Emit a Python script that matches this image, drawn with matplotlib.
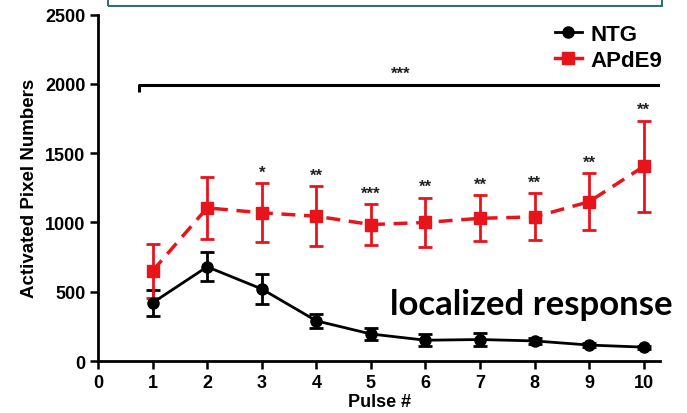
import matplotlib
matplotlib.use("Agg")
import matplotlib.pyplot as plt
from matplotlib.lines import Line2D
from matplotlib.patches import Rectangle

# pulse numbers and mean activated pixel counts
pulses = [1, 2, 3, 4, 5, 6, 7, 8, 9, 10]
ntg_mean = [420, 680, 520, 290, 195, 150, 155, 145, 115, 100]
ntg_err = [95, 105, 105, 50, 45, 45, 45, 20, 15, 10]
apde9_mean = [650, 1105, 1070, 1045, 985, 1000, 1030, 1040, 1150, 1405]
apde9_err = [195, 222, 212, 217, 145, 180, 165, 170, 205, 330]
stars = ["", "", "*", "**", "***", "**", "**", "**", "**", "**"]

x_ticks = [0, 1, 2, 3, 4, 5, 6, 7, 8, 9, 10]
y_ticks = [0, 500, 1000, 1500, 2000, 2500]

RED = "#e8141c"
plt.rcParams["font.family"] = ["Liberation Sans", "DejaVu Sans"]

fig = plt.figure(figsize=(6.87, 4.14), dpi=100)
ax = fig.add_axes([0.1426, 0.1256, 0.8184, 0.8366])

# black NTG curve, solid
ax.errorbar(pulses, ntg_mean, yerr=ntg_err, color="black", lw=2, marker="o",
            markersize=8, capsize=5, capthick=2, elinewidth=2, zorder=3)
# red APdE9 curve, dashed
ax.errorbar(pulses, apde9_mean, yerr=apde9_err, color=RED, lw=2.5, ls=(0, (4, 2.5)),
            marker="s", markersize=8.5, capsize=5, capthick=2, elinewidth=2, zorder=3)

# per-pulse significance stars
for x, m, e, s in zip(pulses, apde9_mean, apde9_err, stars):
    if s:
        ax.text(x, m + e + 25, s, ha="center", va="bottom", fontsize=12,
                fontweight="bold", color="#222222")

# overall bracket
bx0, bx1, by = 0.76, 10.34, 1990
ax.plot([bx0, bx0, bx1, bx1], [by - 50, by, by, by - 50], color="black", lw=2.2,
        solid_capstyle="butt")
ax.text((bx0 + bx1) / 2, by + 30, "***", ha="center", va="bottom", fontsize=12,
        fontweight="bold", color="#222222")

ax.set_xlim(0, 10.3)
ax.set_ylim(0, 2500)
ax.set_xticks(x_ticks)
ax.set_yticks(y_ticks)
for sp in ["top", "right"]:
    ax.spines[sp].set_visible(False)
for sp in ["left", "bottom"]:
    ax.spines[sp].set_linewidth(2)
ax.tick_params(width=1.8, length=6, labelsize=13, pad=3)
for lab in ax.get_xticklabels() + ax.get_yticklabels():
    lab.set_fontweight("bold")

ax.set_ylabel("Activated Pixel Numbers", fontsize=13.5, fontweight="bold", labelpad=5)
ax.set_xlabel("Pulse #", fontsize=13, fontweight="bold", labelpad=2)

handles = [
    Line2D([], [], color="black", lw=2, marker="o", markersize=8),
    Line2D([], [], color=RED, lw=2.5, marker="s", markersize=8.5),
]
ax.legend(handles, ["NTG", "APdE9"], loc="upper right", bbox_to_anchor=(1.02, 1.0),
          frameon=False, prop={"weight": "bold", "size": 16}, handlelength=1.2,
          handletextpad=0.4, labelspacing=0.25, borderaxespad=0)

ax.text(390 / 687, 1 - 315 / 414, "localized response", transform=fig.transFigure,
        fontsize=25, fontweight="bold", family=["Lato", "DejaVu Sans"],
        ha="left", va="baseline")

# cut-off text box at top of the image
fig.patches.append(Rectangle((108 / 687, 1 - 7 / 414), (662 - 108) / 687, 0.1,
                             transform=fig.transFigure, fill=False,
                             edgecolor="#2f6e7e", lw=1.5))

fig.savefig("out.png", dpi=100)
